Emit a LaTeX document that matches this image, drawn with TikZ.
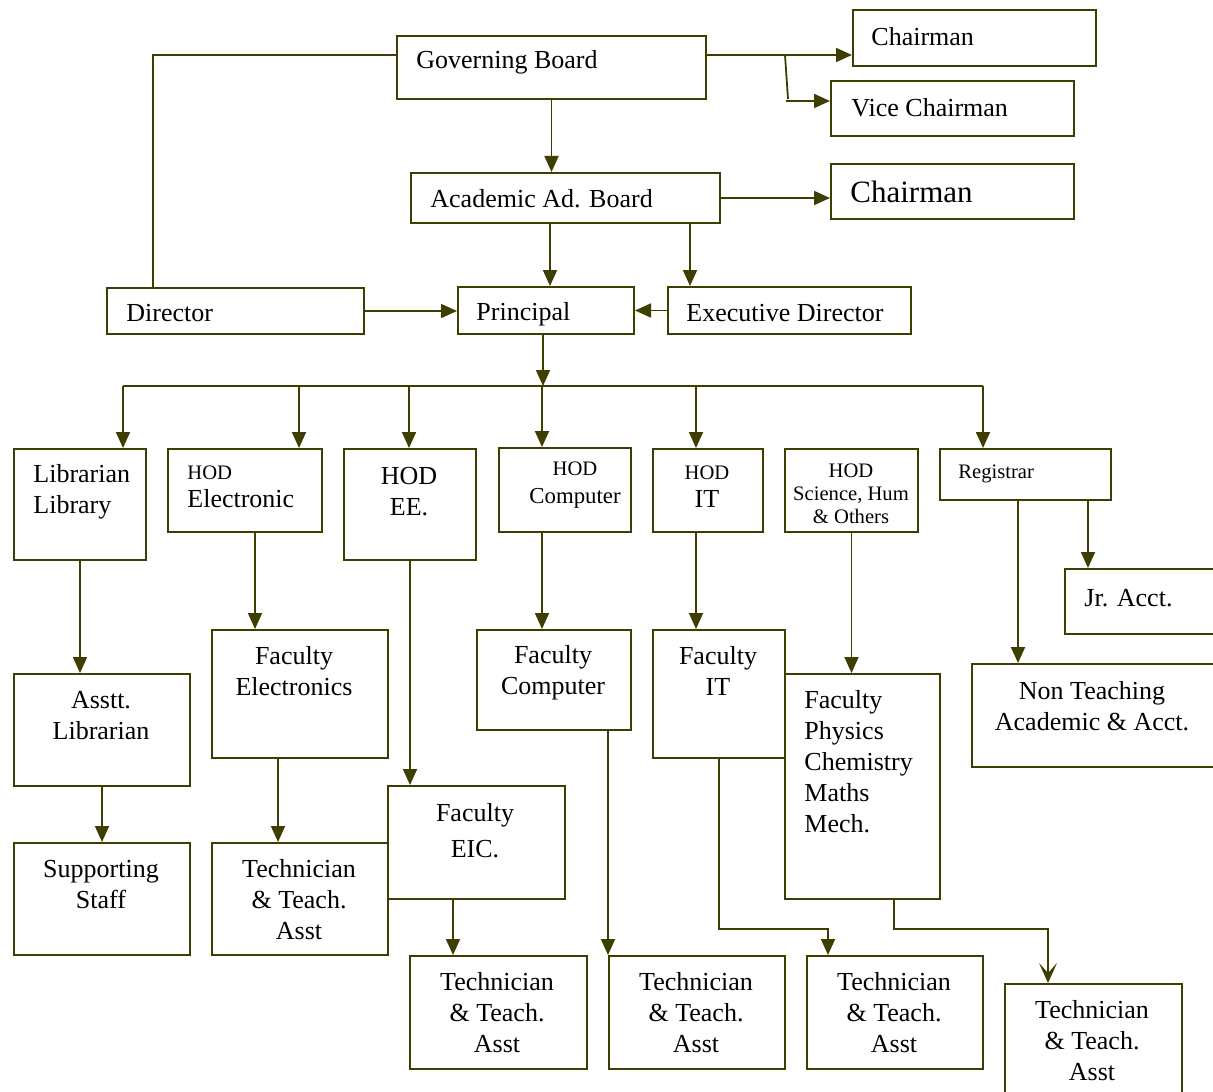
\documentclass[tikz,border=0pt]{standalone}
\usepackage{fontspec}
\setmainfont{Liberation Serif}
\usetikzlibrary{positioning,calc,arrows.meta}
\definecolor{ink}{RGB}{62,62,0}

\begin{document}
\begin{tikzpicture}[x=0.5pt,y=-0.5pt,
   bx/.style 2 args={draw=ink,line width=1pt,anchor=north west,inner sep=0pt,minimum width=#1*0.5pt,minimum height=#2*0.5pt},
   txt/.style={inner sep=0pt,align=center,font=\fontsize{13}{15.5}\selectfont},
   sml/.style={txt,font=\fontsize{10.3}{11.5}\selectfont},
   ln/.style={draw=ink,line width=0.9pt},
   arr/.style={ln,-{Triangle[length=8pt,width=7pt]}}]
 \useasboundingbox (0,0) rectangle (1213,1091);
 \clip (0,0) rectangle (1213,1091);
 % top of the chart
 \node[bx={309}{63}] (gov) at (396,35) {};
 \node[bx={243}{56}] (ch1) at (852,9) {};
 \node[bx={243}{55}] (vc) at (830,80) {};
 \node[bx={309}{50}] (acad) at (410,172) {};
 \node[bx={243}{55}] (ch2) at (830,163) {};
 \node[bx={257}{46}] (dir) at (106,287) {};
 \node[bx={176}{47}] (prin) at (457,286) {};
 \node[bx={243}{47}] (exec) at (667,286) {};
 \node[txt,anchor=west] (gov-t) at (416,62) {Governing Board};
 \node[txt,anchor=west] (ch1-t) at (871,37) {Chairman};
 \node[txt,anchor=west] (vc-t) at (851,108) {Vice Chairman};
 \node[txt,anchor=west] (acad-t) at (430,199) {Academic Ad. Board};
 \node[txt,anchor=west,font=\fontsize{15.5}{18}\selectfont] (ch2-t) at (850,192) {Chairman};
 \node[txt,anchor=west] (dir-t) at (126,313) {Director};
 \node[txt,anchor=west] (prin-t) at (476,314) {Principal};
 \node[txt,anchor=west] (exec-t) at (686,313) {Executive Director};
 % heads of sections
 \node[bx={132}{111}] (lib) at (13,448) {};
 \node[bx={154}{83}] (hodel) at (167,448) {};
 \node[bx={132}{111}] (hodee) at (343,448) {};
 \node[bx={132}{84}] (hodcs) at (498,447) {};
 \node[bx={110}{83}] (hodit) at (652,448) {};
 \node[bx={133}{83}] (hodsc) at (784,448) {};
 \node[bx={171}{51}] (reg) at (939,448) {};
 \node[txt,anchor=west,align=left] (lib-t) at (33,492) {Librarian\\Library};
 \node[txt,anchor=west,align=left] (hodel-t) at (187,487) {{\fontsize{10.3}{11.5}\selectfont HOD}\\[-1.5pt]Electronic};
 \node[txt] (hodee-t) at (409,492) {HOD\\EE.};
 \node[txt] (hodcs-t) at (575,485) {{\fontsize{10.3}{11.5}\selectfont HOD}\\[-1.5pt]{\fontsize{11.4}{13}\selectfont Computer}};
 \node[txt] (hodit-t) at (707,487) {{\fontsize{10.3}{11.5}\selectfont HOD}\\[-1.5pt]IT};
 \node[sml] (hodsc-t) at (851,494) {HOD\\Science, Hum\\\& Others};
 \node[sml,anchor=west] (reg-t) at (958,474) {Registrar};
 % staff
 \node[bx={160}{65}] (jr) at (1064,568) {};
 \node[bx={250}{103}] (nont) at (971,663) {};
 \node[bx={176}{112}] (asst) at (13,673) {};
 \node[bx={176}{128}] (facel) at (211,629) {};
 \node[bx={154}{100}] (faccs) at (476,629) {};
 \node[bx={132}{128}] (facit) at (652,629) {};
 \node[bx={155}{225}] (facsc) at (784,673) {};
 \node[bx={177}{113}] (faceic) at (387,785) {};
 \node[bx={176}{112}] (supp) at (13,842) {};
 \node[bx={176}{112}] (tech1) at (211,842) {};
 \node[bx={177}{113}] (tech2) at (409,955) {};
 \node[bx={176}{113}] (tech3) at (608,955) {};
 \node[bx={176}{113}] (tech4) at (806,955) {};
 \node[bx={177}{120}] (tech5) at (1004,983) {};
 \node[txt,anchor=west] (jr-t) at (1084,598) {Jr. Acct.};
 \node[txt] (nont-t) at (1092,706) {Non Teaching\\Academic \& Acct.};
 \node[txt] (asst-t) at (101,716) {Asstt.\\Librarian};
 \node[txt] (facel-t) at (294,671) {Faculty\\Electronics};
 \node[txt] (faccs-t) at (553,673) {Faculty\\Computer};
 \node[txt] (facit-t) at (718,671) {Faculty\\IT};
 \node[txt,anchor=west,align=left] (facsc-t) at (804,762) {Faculty\\Physics\\Chemistry\\Maths\\Mech.};
 \node[txt] (faceic-t) at (475,831) {Faculty\\[2.5pt]EIC.};
 \node[txt] (supp-t) at (101,885) {Supporting\\Staff};
 \node[txt] (tech1-t) at (299,900) {Technician\\\& Teach.\\Asst};
 \node[txt] (tech2-t) at (497,1013) {Technician\\\& Teach.\\Asst};
 \node[txt] (tech3-t) at (696,1013) {Technician\\\& Teach.\\Asst};
 \node[txt] (tech4-t) at (894,1013) {Technician\\\& Teach.\\Asst};
 \node[txt] (tech5-t) at (1092,1041) {Technician\\\& Teach.\\Asst};
 % connectors
 \draw[ln] ($(gov.north west)+(0,20)$) -| ($(dir.north west)+(47,0)$);
 \coordinate (g1) at ($(gov.north east)+(0,20)$);
 \draw[arr] (g1) -- (g1 -| ch1.west);
 \coordinate (vb) at ($(gov.north east)+(78,20)$);
 \draw[ln] (vb) -- ++(3,44);
 \coordinate (v1) at ($(vb)+(1,46)$);
 \draw[arr] (v1) -- (v1 -| vc.west);
 \draw[arr] (gov.south) -- (gov.south |- acad.north);
 \draw[arr] (acad.east) -- (acad.east -| ch2.west);
 \coordinate (a1) at ($(prin.north)+(4,0)$);
 \draw[arr] (a1 |- acad.south) -- (a1);
 \coordinate (a2) at ($(exec.north west)+(23,0)$);
 \draw[arr] (a2 |- acad.south) -- (a2);
 \draw[arr] (dir.east) -- (dir.east -| prin.west);
 \draw[arr] (exec.west) -- (prin.east);
 \coordinate (bus) at ($(prin.south)+(-3,51)$);
 \draw[arr] (bus |- prin.south) -- (bus);
 \coordinate (bl) at ($(lib.north west)+(110,0)$);
 \coordinate (br) at ($(reg.north west)+(44,0)$);
 \draw[ln] (bl |- bus) -- (br |- bus);
 \foreach \n/\d in {lib/110,hodel/132,hodee/66,hodcs/44,hodit/44,reg/44}
 {\coordinate (d) at ($(\n.north west)+(\d,0)$);
  \draw[arr] (d |- bus) -- (d);}
 \draw[arr] (lib.south) -- (lib.south |- asst.north);
 \draw[arr] (asst.south) -- (supp.north);
 \coordinate (e1) at ($(hodel.south west)+(88,0)$);
 \draw[arr] (e1) -- (e1 |- facel.north);
 \coordinate (e2) at ($(facel.south west)+(67,0)$);
 \draw[arr] (e2) -- (e2 |- tech1.north);
 \draw[arr] (hodee.south) -- (hodee.south |- faceic.north);
 \coordinate (e3) at ($(faceic.south west)+(66,0)$);
 \draw[arr] (e3) -- (e3 |- tech2.north);
 \coordinate (c1) at ($(hodcs.south west)+(44,0)$);
 \draw[arr] (c1) -- (c1 |- faccs.north);
 \coordinate (c2) at ($(faccs.south west)+(132,0)$);
 \draw[arr] (c2) -- (tech3.north west);
 \coordinate (i1) at ($(hodit.south west)+(44,0)$);
 \draw[arr] (i1) -- (i1 |- facit.north);
 \draw[arr] (facit.south) -- ++(0,170) -| ($(tech4.north west)+(22,0)$);
 \draw[arr] (hodsc.south) -- (hodsc.south |- facsc.north);
 \draw[ln,-{Stealth[length=10pt,width=9pt,inset=5pt]}] ($(facsc.south west)+(110,0)$) -- ++(0,29) -| ($(tech5.north west)+(44,0)$);
 \coordinate (r1) at ($(reg.south west)+(79,0)$);
 \draw[arr] (r1) -- (r1 |- nont.north);
 \coordinate (r2) at ($(reg.south west)+(149,0)$);
 \draw[arr] (r2) -- (r2 |- jr.north);
\end{tikzpicture}
\end{document}
